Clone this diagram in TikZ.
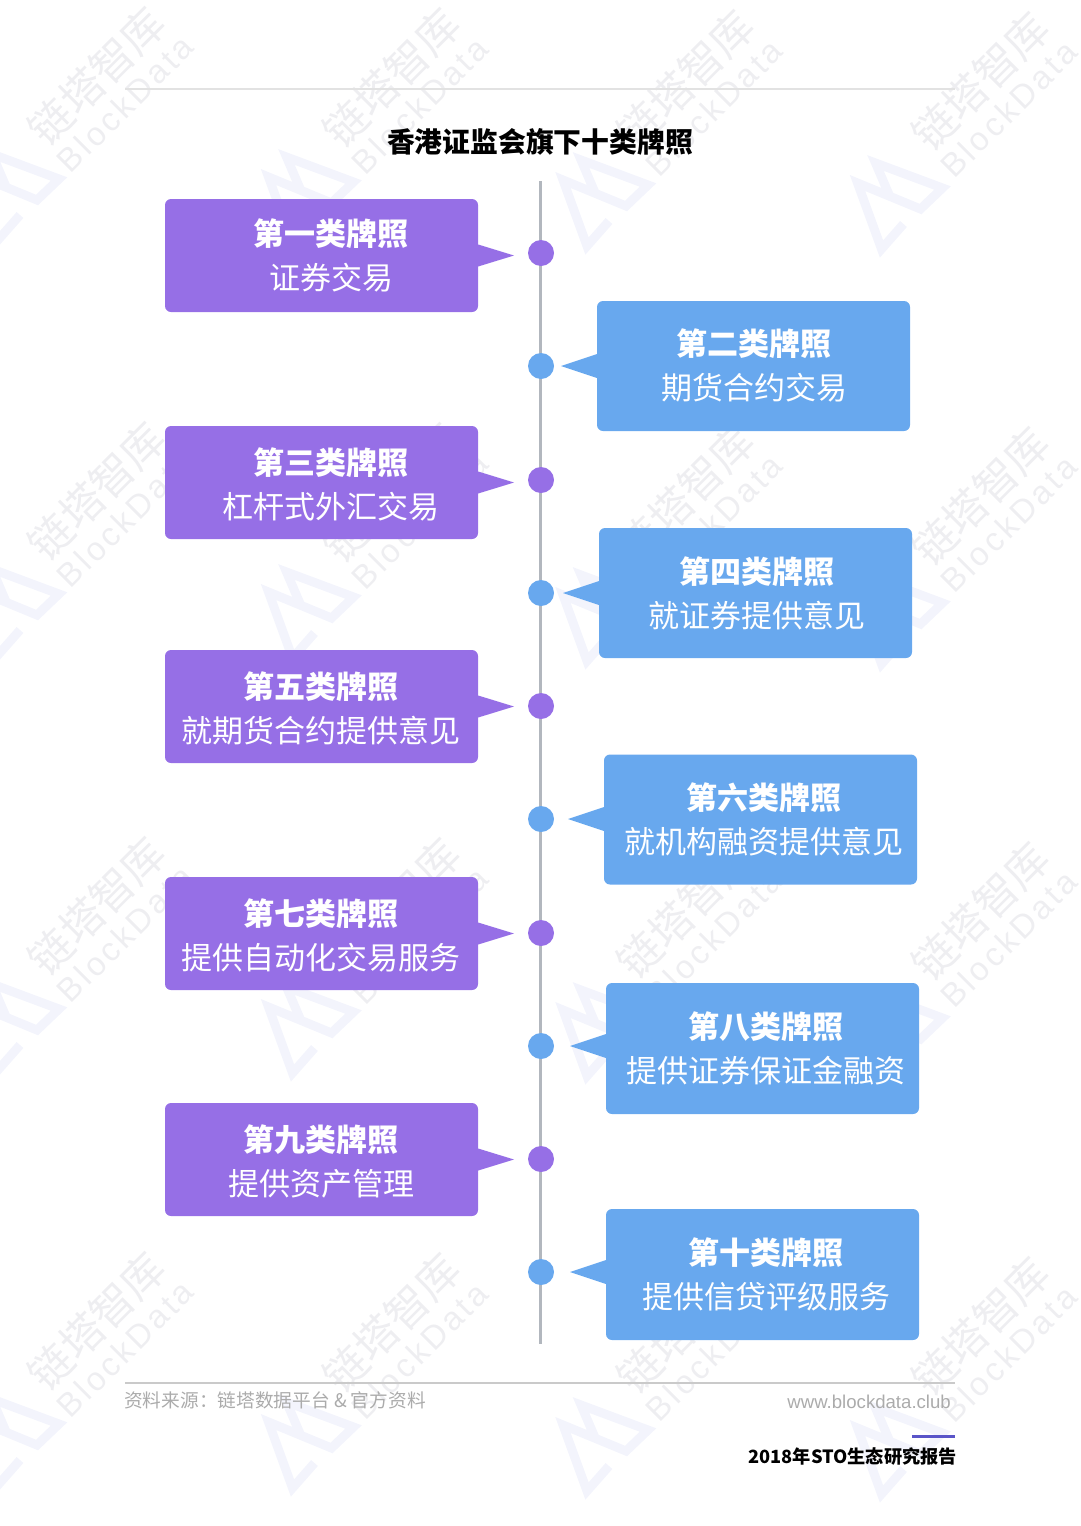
\documentclass[tikz,border=0pt]{standalone}
\usepackage{fontspec}
\usetikzlibrary{calc}
\setmainfont{Noto Sans CJK SC}
\newfontfamily\latinsans{Liberation Sans}
\newfontfamily\latinspaced[LetterSpace=10]{Liberation Sans}
\definecolor{purpleb}{HTML}{966FE6}
\definecolor{blueb}{HTML}{68A8EE}
\definecolor{spinec}{HTML}{B2B7BE}
\definecolor{wmtext}{HTML}{EEEEF1}
\definecolor{wmlogo}{HTML}{F3F4FC}
\definecolor{rulec}{HTML}{E2E2E2}
\definecolor{rulebot}{HTML}{CACACA}
\definecolor{srcc}{HTML}{ABABAB}
\definecolor{barc}{HTML}{5A55C8}
\tikzset{
  lic/.style={rounded corners=6pt,minimum width=313pt,inner sep=0pt,draw=none},
  licdot/.style={circle,minimum size=26pt,inner sep=0pt,draw=none},
  lichead/.style={text=white,font=\fontsize{31}{31}\selectfont\bfseries,inner sep=0pt},
  licbody/.style={text=white,font=\fontsize{31}{31}\selectfont,inner sep=0pt},
  wmcn/.style={text=wmtext,font=\fontsize{43}{43}\selectfont,rotate=45,inner sep=0pt},
  wmen/.style={text=wmtext,font=\latinspaced\fontsize{33}{33}\selectfont,rotate=45,inner sep=0pt},
  wmlogoline/.style={draw=wmlogo,line width=9pt,line join=miter,miter limit=10},
}
\begin{document}
\begin{tikzpicture}[x=1pt,y=-1pt]
\useasboundingbox (0,0) rectangle (1080,1526);
% watermark
\foreach \row in {0,1,2,3}{
  \foreach \col in {0,1,2,3}{
    \pgfmathsetmacro{\wx}{97+294.5*\col}
    \pgfmathsetmacro{\wy}{76+1.7*\col+415*\row}
    \pgfmathsetmacro{\ex}{\wx+28}
    \pgfmathsetmacro{\ey}{\wy+28}
    \pgfmathsetmacro{\lx}{12+294.5*\col}
    \pgfmathsetmacro{\ly}{197+3*\col+415*\row}
    \node[wmcn] (wmc\row\col) at (\wx,\wy) {链塔智库};
    \node[wmen] (wme\row\col) at (\ex,\ey) {BlockData};
    \begin{scope}[shift={(\lx,\ly)}]
      \draw[wmlogoline] (-5,-8) -- (-20,-43) -- (47,-18) -- (25,3) -- (-38,-23) -- (-14,43) -- (8,18);
    \end{scope}
  }
}
% rules and title
\coordinate (ruleTL) at (125,89);
\coordinate (ruleTR) at (955,89);
\draw[rulec,line width=1.2pt] (ruleTL) -- (ruleTR);
\node[font=\fontsize{27.8}{28}\selectfont\bfseries,text=black,inner sep=0pt] (title) at (540,142) {香港证监会旗下十类牌照};
% spine
\coordinate (spineT) at (540,181);
\coordinate (spineB) at (540,1344);
\draw[spinec,line width=3pt] (spineT) -- (spineB);
% purple items (left)
\foreach \n/\cy/\dy/\tx/\hy/\by/\head/\body in {
  a/255.5/253/331/234/278/第一类牌照/证券交易,
  c/482.5/480/331/463/507/第三类牌照/杠杆式外汇交易,
  e/706.5/706/321/687/731/第五类牌照/就期货合约提供意见,
  g/933.5/933/321/914/958/第七类牌照/提供自动化交易服务,
  i/1159.5/1159/321/1140/1184/第九类牌照/提供资产管理}{
  \node[lic,fill=purpleb,minimum height=113pt] (box\n) at (321.5,\cy) {};
  \node[licdot,fill=purpleb] (dot\n) at (541,\dy) {};
  \coordinate (tip\n) at (514,\cy);
  \fill[purpleb] ([yshift=11pt]box\n.east) -- (tip\n) -- ([yshift=-11pt]box\n.east) -- cycle;
  \node[lichead] (head\n) at (\tx,\hy) {\head};
  \node[licbody] (body\n) at (\tx,\by) {\body};
}
% blue items (right)
\foreach \n/\cx/\cy/\h/\dy/\tx/\hy/\by/\head/\body in {
  b/753.5/366/130/366/754/344/388/第二类牌照/期货合约交易,
  d/755.5/593/130/593/757/572/616/第四类牌照/就证券提供意见,
  f/760.5/819.5/130/819/764/798/842/第六类牌照/就机构融资提供意见,
  h/762.5/1048.5/131/1046/766/1027/1071/第八类牌照/提供证券保证金融资,
  j/762.5/1274.5/131/1272/766/1253/1297/第十类牌照/提供信贷评级服务}{
  \node[lic,fill=blueb,minimum height=\h pt] (box\n) at (\cx,\cy) {};
  \node[licdot,fill=blueb] (dot\n) at (541,\dy) {};
  \coordinate (tip\n) at (\cx-192.5,\dy);
  \fill[blueb] (\cx-156.5,\dy-12) -- (tip\n) -- (\cx-156.5,\dy+12) -- cycle;
  \node[lichead] (head\n) at (\tx,\hy) {\head};
  \node[licbody] (body\n) at (\tx,\by) {\body};
}
% footer
\coordinate (ruleBL) at (125,1383);
\coordinate (ruleBR) at (955,1383);
\draw[rulebot,line width=1.5pt] (ruleBL) -- (ruleBR);
\node[anchor=west,text=srcc,font=\fontsize{18.7}{19}\selectfont,inner sep=0pt] (src) at (124,1400) {资料来源：链塔数据平台 \& 官方资料};
\node[anchor=east,text=srcc,font=\latinsans\fontsize{18.6}{19}\selectfont,inner sep=0pt] (url) at (951,1402) {www.blockdata.club};
\coordinate (barL) at (912,1436);
\coordinate (barR) at (955,1436);
\draw[barc,line width=3pt] (barL) -- (barR);
\node[anchor=east,text=black,font=\fontsize{18.2}{20}\selectfont\bfseries,inner sep=0pt] (rep) at (957,1457) {2018年STO生态研究报告};
\end{tikzpicture}
\end{document}
